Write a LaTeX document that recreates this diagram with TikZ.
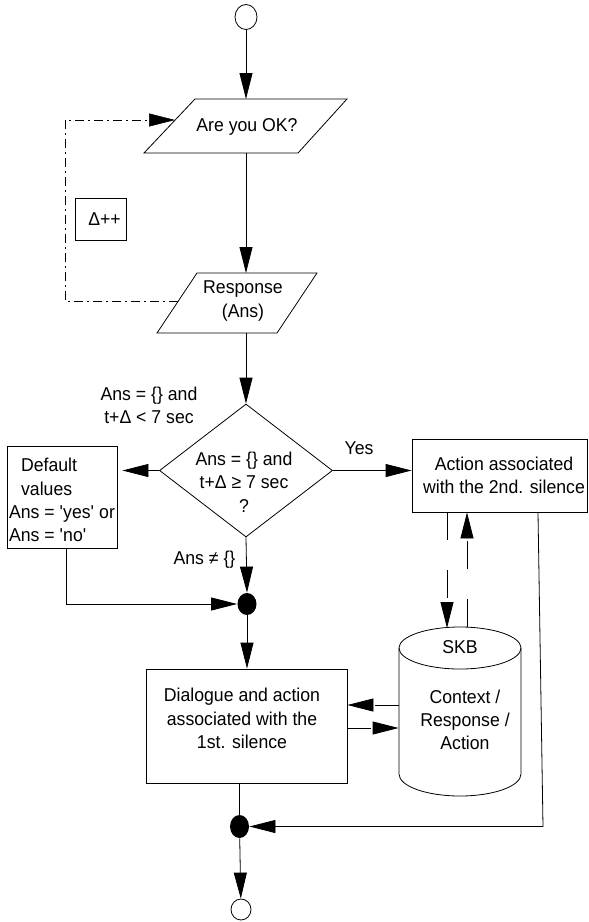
\documentclass[tikz,border=0pt]{standalone}
\usepackage{fontspec}
\setmainfont[FakeStretch=0.95]{Liberation Sans}
\usetikzlibrary{arrows.meta,shapes.geometric}

\begin{document}
\begin{tikzpicture}[x=1pt, y=-1pt, line width=0.8pt,
  every node/.style={font=\fontsize{18.6}{23.3}\selectfont, inner sep=0pt},
  arr/.style={-{Triangle[length=26pt,width=13pt]}},
  box/.style={draw, rectangle},
  junction/.style={ellipse, fill, minimum width=19pt, minimum height=22pt},
  term/.style={draw, ellipse},
  dashlink/.style={dash pattern=on #1 off 30pt},
  dashlink/.default=28pt,
  loopline/.style={dash pattern=on 9pt off 4pt on 2pt off 4pt, line width=0.6pt}]
\useasboundingbox (0,0) rectangle (589,922);
%\draw[help lines] (0,0) grid[step=50] (589,922);

% input / response
\node[term, minimum width=22pt, minimum height=25pt] (start) at (246,17) {};
\coordinate (ok-tl) at (195,99);
\coordinate (ok-tr) at (347,99);
\coordinate (ok-br) at (298,153);
\coordinate (ok-bl) at (144,153);
\draw (ok-tl) -- (ok-tr) -- (ok-br) -- (ok-bl) -- cycle;
\node (ok) at (247,127) {Are you OK?};
\coordinate (resp-tl) at (197,273);
\coordinate (resp-tr) at (317,273);
\coordinate (resp-br) at (277,333);
\coordinate (resp-bl) at (157,333);
\draw (resp-tl) -- (resp-tr) -- (resp-br) -- (resp-bl) -- cycle;
\node[align=center] (resp) at (243,301) {Response\\(Ans)};
\node[box, minimum width=51pt, minimum height=42pt] (delta) at (100.5,219) {\hspace*{8pt}Δ++};

% decision
\node[draw, diamond, minimum width=173pt, minimum height=133pt] (dec) at (246,470.5) {};
\node[align=center] (dectxt) at (244,482) {Ans = \{\} and\\t+Δ ≥ 7 sec\\?};
\node[align=center] (lesstxt) at (149,405) {Ans = \{\} and\\t+Δ < 7 sec};
\node (yestxt) at (359,448) {Yes};
\node (netxt) at (204.5,560) {Ans ≠ \{\}};

% default values
\node[box, minimum width=110pt, minimum height=102pt] (def) at (62,497) {};
\node[align=left] (deftxt) at (62,500) {\hspace*{12pt}Default\\\hspace*{12pt}values\\
  Ans = \textquotesingle yes\textquotesingle{} or\\Ans = \textquotesingle no\textquotesingle};

% 2nd silence
\node[box, minimum width=175pt, minimum height=73pt] (act) at (499.5,475.5) {};
\node[align=center] (acttxt) at (504,475) {Action associated\\with the 2nd. silence};

% 1st silence
\node[junction] (dot1) at (247,604) {};
\node[box, minimum width=201pt, minimum height=114pt] (dlg) at (246.5,726) {};
\node[align=center] (dlgtxt) at (242,718.5) {Dialogue and action\\associated with the\\1st. silence};

% SKB
\node[minimum width=122pt, minimum height=169pt] (skb) at (460,711.5) {};
\draw (399,648) -- (399,774) arc[start angle=180, end angle=0, x radius=61, y radius=22] -- (521,648);
\draw (460,648) ellipse [x radius=61, y radius=21];
\node (skbtxt) at (460,647) {SKB};
\node[align=center] (ctxtxt) at (465,720) {Context /\\Response /\\Action};

% output
\node[junction, minimum height=23pt] (dot2) at (239.5,826.5) {};
\node[term, minimum width=20pt, minimum height=21pt] (end) at (241,909.5) {};

% connectors
\draw[arr] (start) -- (start |- ok-tl);
\draw[arr] (ok-bl -| dec.north) -- (resp-tl -| dec.north);
\draw[arr] (resp-bl -| dec.north) -- (dec.north);
\coordinate (loop) at (65,0);
\coordinate (ok-in) at (175,120);
\coordinate (resp-out) at (178,301);
\draw[arr, loopline] (resp-out) -- (resp-out -| loop) -- (ok-in -| loop) -- (ok-in);
\draw[arr, shorten >=5pt] (dec.west) -- (dec.west -| def.east);
\draw[arr] (dec.east) -- (dec.east -| act.west);
\draw[arr] (dec.south) -- (dot1.north);
\draw[arr] ([xshift=4pt]def.south) |- (dot1.west);
\draw[arr] (dot1) -- (dot1 |- dlg.north);
\coordinate (skbin) at (447,628);
\coordinate (skbout) at (467,627);
\draw[arr, dashlink] (act.south -| skbin) -- (skbin);
\draw[arr, dashlink] (skbout) -- (act.south -| skbout);
\draw[arr, dashlink=24pt] ([yshift=6.5pt]skb.west) -- ([yshift=6.5pt]skb.west -| dlg.east);
\draw[arr, dashlink=24pt] ([yshift=-16.5pt]skb.west -| dlg.east) -- ([yshift=-16.5pt]skb.west);
\draw (dlg.south -| dot2) -- (dot2.north);
\coordinate (corner) at (543,826.5);
\draw[arr] ([xshift=38.5pt]act.south) -- (corner) -- (dot2.east);
\draw[arr] (dot2) -- (end);
\end{tikzpicture}
\end{document}
